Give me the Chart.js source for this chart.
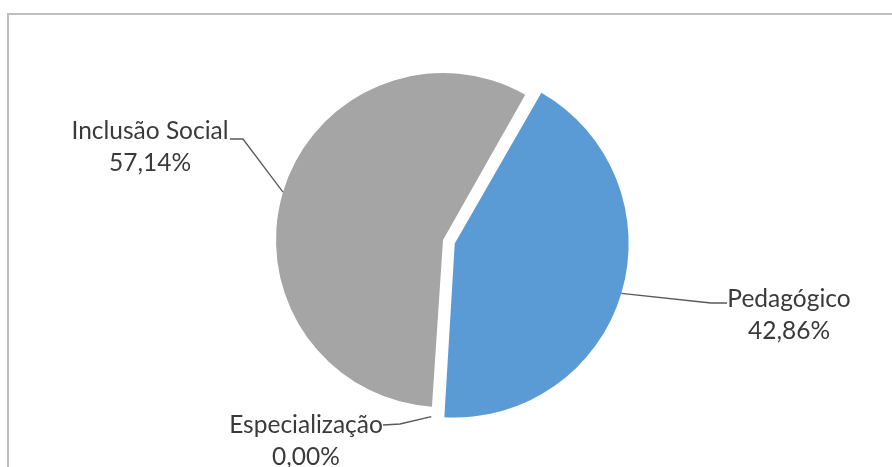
<!DOCTYPE html>
<html>
<head>
<meta charset="utf-8">
<title>Distribuição por área</title>
<script src="https://cdn.jsdelivr.net/npm/chart.js@4.4.1/dist/chart.umd.min.js"></script>
<style>
    html, body { margin: 0; padding: 0; background: #fff; overflow: hidden; }
    #chartWrap { position: relative; width: 892px; height: 467px; }
</style>
</head>
<body>
<div id="chartWrap">
    <canvas id="areaPie" width="892" height="467"></canvas>
</div>
<script>
// Chart data
const categories = ['Pedagógico', 'Especialização', 'Inclusão Social'];
const percentages = [42.86, 0.00, 57.14];
const sliceColors = ['#5B9BD5', '#ED7D31', '#A5A5A5'];

// Where each data label sits, plus the bend of its leader line
const labelLayout = [
    { x: 789, y: 299, bend: [711, 303], tail: [727, 303] },
    { x: 306, y: 425, bend: [400, 424], tail: [383, 425], pad: 10 },
    { x: 150, y: 131, bend: [243, 139], tail: [230, 139] }
];

const formatPct = v => v.toFixed(2).replace('.', ',') + '%';

// Outer frame around the chart
const framePlugin = {
    id: 'frame',
    beforeDraw(chart) {
        const ctx = chart.ctx;
        ctx.save();
        ctx.strokeStyle = '#BFBFBF';
        ctx.lineWidth = 2;
        ctx.strokeRect(8, 14, 920, 520);
        ctx.restore();
    }
};

// Labels with leader lines, anchored on the arcs
const pieLabels = {
    id: 'pieLabels',
    afterDatasetsDraw(chart) {
        const ctx = chart.ctx;
        const arcs = chart.getDatasetMeta(0).data;
        ctx.save();
        arcs.forEach((arc, i) => {
            const p = arc.getProps(['x', 'y', 'startAngle', 'endAngle', 'outerRadius']);
            const circ = p.endAngle - p.startAngle;
            const mid = (p.startAngle + p.endAngle) / 2;
            // same shift that ArcElement applies for an offset slice
            const off = (arc.options.offset || 0) / 4;
            const fix = 1 - Math.sin(Math.min(Math.PI, circ || 0));
            const shift = off + off * fix;
            const r = p.outerRadius + (labelLayout[i].pad || 0);
            const ax = p.x + Math.cos(mid) * (shift + r);
            const ay = p.y + Math.sin(mid) * (shift + r);
            const lay = labelLayout[i];

            ctx.strokeStyle = '#595959';
            ctx.lineWidth = 1.3;
            ctx.beginPath();
            ctx.moveTo(ax, ay);
            ctx.lineTo(lay.bend[0], lay.bend[1]);
            ctx.lineTo(lay.tail[0], lay.tail[1]);
            ctx.stroke();

            ctx.fillStyle = '#3A3A3A';
            ctx.font = '24.5px Lato, "Noto Sans", sans-serif';
            ctx.textAlign = 'center';
            ctx.textBaseline = 'middle';
            ctx.fillText(categories[i], lay.x, lay.y);
            ctx.fillText(formatPct(percentages[i]), lay.x, lay.y + 32);
        });
        ctx.restore();
    }
};

const ctx = document.getElementById('areaPie').getContext('2d');
const areaPie = new Chart(ctx, {
    type: 'pie',
    data: {
        labels: categories,
        datasets: [{
            data: percentages,
            backgroundColor: sliceColors,
            borderWidth: 0,
            offset: [49, 0, 0],
            radius: 167
        }]
    },
    options: {
        responsive: false,
        animation: false,
        devicePixelRatio: 1,
        rotation: 29.5,
        layout: {
            padding: { left: 0, right: 6, top: 13, bottom: 0 }
        },
        plugins: {
            legend: { display: false },
            tooltip: { enabled: false }
        }
    },
    plugins: [framePlugin, pieLabels]
});
</script>
</body>
</html>
